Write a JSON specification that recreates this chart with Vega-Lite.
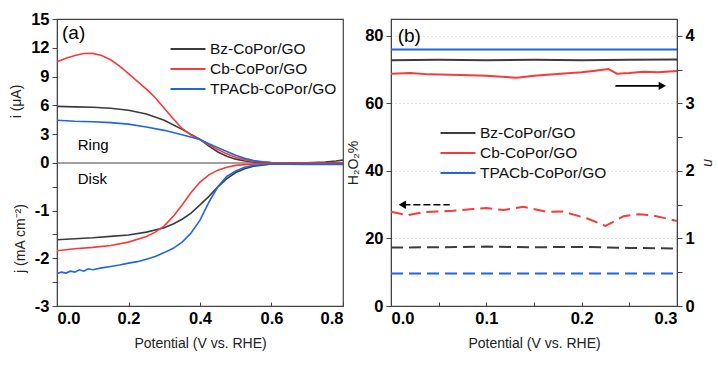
{
  "$schema": "https://vega.github.io/schema/vega-lite/v6.json",
  "background": "white",
  "padding": {"left": 9, "top": 10, "right": 5, "bottom": 5},
  "datasets": {
    "ring": [
      {"V": 0, "i": 5.9, "s": "Bz-CoPor/GO"}, {"V": 0.05, "i": 5.85, "s": "Bz-CoPor/GO"}, {"V": 0.1, "i": 5.8, "s": "Bz-CoPor/GO"}, {"V": 0.15, "i": 5.7, "s": "Bz-CoPor/GO"}, {"V": 0.2, "i": 5.5, "s": "Bz-CoPor/GO"}, {"V": 0.25, "i": 5.1, "s": "Bz-CoPor/GO"}, {"V": 0.3, "i": 4.45, "s": "Bz-CoPor/GO"}, {"V": 0.35, "i": 3.5, "s": "Bz-CoPor/GO"}, {"V": 0.4, "i": 2.45, "s": "Bz-CoPor/GO"}, {"V": 0.425, "i": 1.75, "s": "Bz-CoPor/GO"}, {"V": 0.45, "i": 1.15, "s": "Bz-CoPor/GO"}, {"V": 0.475, "i": 0.7, "s": "Bz-CoPor/GO"}, {"V": 0.5, "i": 0.4, "s": "Bz-CoPor/GO"}, {"V": 0.525, "i": 0.2, "s": "Bz-CoPor/GO"}, {"V": 0.55, "i": 0.1, "s": "Bz-CoPor/GO"}, {"V": 0.6, "i": 0.02, "s": "Bz-CoPor/GO"}, {"V": 0.65, "i": 0.0, "s": "Bz-CoPor/GO"}, {"V": 0.7, "i": 0.02, "s": "Bz-CoPor/GO"}, {"V": 0.75, "i": 0.1, "s": "Bz-CoPor/GO"}, {"V": 0.78, "i": 0.2, "s": "Bz-CoPor/GO"}, {"V": 0.8, "i": 0.3, "s": "Bz-CoPor/GO"},
      {"V": 0, "i": 10.55, "s": "Cb-CoPor/GO"}, {"V": 0.025, "i": 10.9, "s": "Cb-CoPor/GO"}, {"V": 0.05, "i": 11.2, "s": "Cb-CoPor/GO"}, {"V": 0.075, "i": 11.4, "s": "Cb-CoPor/GO"}, {"V": 0.1, "i": 11.42, "s": "Cb-CoPor/GO"}, {"V": 0.125, "i": 11.2, "s": "Cb-CoPor/GO"}, {"V": 0.15, "i": 10.75, "s": "Cb-CoPor/GO"}, {"V": 0.175, "i": 10.1, "s": "Cb-CoPor/GO"}, {"V": 0.2, "i": 9.3, "s": "Cb-CoPor/GO"}, {"V": 0.225, "i": 8.5, "s": "Cb-CoPor/GO"}, {"V": 0.25, "i": 7.7, "s": "Cb-CoPor/GO"}, {"V": 0.275, "i": 6.8, "s": "Cb-CoPor/GO"}, {"V": 0.3, "i": 5.7, "s": "Cb-CoPor/GO"}, {"V": 0.325, "i": 4.6, "s": "Cb-CoPor/GO"}, {"V": 0.35, "i": 3.6, "s": "Cb-CoPor/GO"}, {"V": 0.375, "i": 2.9, "s": "Cb-CoPor/GO"}, {"V": 0.4, "i": 2.45, "s": "Cb-CoPor/GO"}, {"V": 0.425, "i": 1.9, "s": "Cb-CoPor/GO"}, {"V": 0.45, "i": 1.4, "s": "Cb-CoPor/GO"}, {"V": 0.475, "i": 0.95, "s": "Cb-CoPor/GO"}, {"V": 0.5, "i": 0.6, "s": "Cb-CoPor/GO"}, {"V": 0.525, "i": 0.35, "s": "Cb-CoPor/GO"}, {"V": 0.55, "i": 0.15, "s": "Cb-CoPor/GO"}, {"V": 0.6, "i": 0.03, "s": "Cb-CoPor/GO"}, {"V": 0.65, "i": 0.0, "s": "Cb-CoPor/GO"}, {"V": 0.8, "i": 0.0, "s": "Cb-CoPor/GO"},
      {"V": 0, "i": 4.45, "s": "TPACb-CoPor/GO"}, {"V": 0.05, "i": 4.35, "s": "TPACb-CoPor/GO"}, {"V": 0.1, "i": 4.3, "s": "TPACb-CoPor/GO"}, {"V": 0.15, "i": 4.2, "s": "TPACb-CoPor/GO"}, {"V": 0.2, "i": 4.05, "s": "TPACb-CoPor/GO"}, {"V": 0.25, "i": 3.75, "s": "TPACb-CoPor/GO"}, {"V": 0.3, "i": 3.4, "s": "TPACb-CoPor/GO"}, {"V": 0.35, "i": 2.95, "s": "TPACb-CoPor/GO"}, {"V": 0.4, "i": 2.45, "s": "TPACb-CoPor/GO"}, {"V": 0.425, "i": 2.0, "s": "TPACb-CoPor/GO"}, {"V": 0.45, "i": 1.6, "s": "TPACb-CoPor/GO"}, {"V": 0.475, "i": 1.2, "s": "TPACb-CoPor/GO"}, {"V": 0.5, "i": 0.8, "s": "TPACb-CoPor/GO"}, {"V": 0.525, "i": 0.5, "s": "TPACb-CoPor/GO"}, {"V": 0.55, "i": 0.25, "s": "TPACb-CoPor/GO"}, {"V": 0.575, "i": 0.12, "s": "TPACb-CoPor/GO"}, {"V": 0.6, "i": 0.05, "s": "TPACb-CoPor/GO"}, {"V": 0.7, "i": -0.03, "s": "TPACb-CoPor/GO"}, {"V": 0.8, "i": -0.05, "s": "TPACb-CoPor/GO"}
    ],
    "disk": [
      {"V": 0, "j": -1.61, "s": "Bz-CoPor/GO"}, {"V": 0.05, "j": -1.59, "s": "Bz-CoPor/GO"}, {"V": 0.1, "j": -1.57, "s": "Bz-CoPor/GO"}, {"V": 0.15, "j": -1.54, "s": "Bz-CoPor/GO"}, {"V": 0.2, "j": -1.51, "s": "Bz-CoPor/GO"}, {"V": 0.25, "j": -1.45, "s": "Bz-CoPor/GO"}, {"V": 0.3, "j": -1.36, "s": "Bz-CoPor/GO"}, {"V": 0.325, "j": -1.28, "s": "Bz-CoPor/GO"}, {"V": 0.35, "j": -1.18, "s": "Bz-CoPor/GO"}, {"V": 0.375, "j": -1.05, "s": "Bz-CoPor/GO"}, {"V": 0.4, "j": -0.88, "s": "Bz-CoPor/GO"}, {"V": 0.425, "j": -0.7, "s": "Bz-CoPor/GO"}, {"V": 0.45, "j": -0.5, "s": "Bz-CoPor/GO"}, {"V": 0.475, "j": -0.33, "s": "Bz-CoPor/GO"}, {"V": 0.5, "j": -0.2, "s": "Bz-CoPor/GO"}, {"V": 0.525, "j": -0.12, "s": "Bz-CoPor/GO"}, {"V": 0.55, "j": -0.07, "s": "Bz-CoPor/GO"}, {"V": 0.6, "j": -0.02, "s": "Bz-CoPor/GO"}, {"V": 0.7, "j": 0, "s": "Bz-CoPor/GO"}, {"V": 0.8, "j": 0, "s": "Bz-CoPor/GO"},
      {"V": 0, "j": -1.84, "s": "Cb-CoPor/GO"}, {"V": 0.05, "j": -1.8, "s": "Cb-CoPor/GO"}, {"V": 0.1, "j": -1.77, "s": "Cb-CoPor/GO"}, {"V": 0.15, "j": -1.73, "s": "Cb-CoPor/GO"}, {"V": 0.2, "j": -1.66, "s": "Cb-CoPor/GO"}, {"V": 0.25, "j": -1.54, "s": "Cb-CoPor/GO"}, {"V": 0.275, "j": -1.45, "s": "Cb-CoPor/GO"}, {"V": 0.3, "j": -1.32, "s": "Cb-CoPor/GO"}, {"V": 0.325, "j": -1.12, "s": "Cb-CoPor/GO"}, {"V": 0.35, "j": -0.88, "s": "Cb-CoPor/GO"}, {"V": 0.375, "j": -0.62, "s": "Cb-CoPor/GO"}, {"V": 0.4, "j": -0.4, "s": "Cb-CoPor/GO"}, {"V": 0.425, "j": -0.25, "s": "Cb-CoPor/GO"}, {"V": 0.45, "j": -0.15, "s": "Cb-CoPor/GO"}, {"V": 0.475, "j": -0.09, "s": "Cb-CoPor/GO"}, {"V": 0.5, "j": -0.05, "s": "Cb-CoPor/GO"}, {"V": 0.55, "j": -0.02, "s": "Cb-CoPor/GO"}, {"V": 0.6, "j": 0, "s": "Cb-CoPor/GO"}, {"V": 0.8, "j": 0, "s": "Cb-CoPor/GO"},
      {"V": 0, "j": -2.32, "s": "TPACb-CoPor/GO"}, {"V": 0.0125, "j": -2.29, "s": "TPACb-CoPor/GO"}, {"V": 0.025, "j": -2.31, "s": "TPACb-CoPor/GO"}, {"V": 0.0375, "j": -2.27, "s": "TPACb-CoPor/GO"}, {"V": 0.05, "j": -2.29, "s": "TPACb-CoPor/GO"}, {"V": 0.0625, "j": -2.24, "s": "TPACb-CoPor/GO"}, {"V": 0.075, "j": -2.27, "s": "TPACb-CoPor/GO"}, {"V": 0.0875, "j": -2.22, "s": "TPACb-CoPor/GO"}, {"V": 0.1, "j": -2.24, "s": "TPACb-CoPor/GO"}, {"V": 0.125, "j": -2.2, "s": "TPACb-CoPor/GO"}, {"V": 0.15, "j": -2.17, "s": "TPACb-CoPor/GO"}, {"V": 0.175, "j": -2.14, "s": "TPACb-CoPor/GO"}, {"V": 0.2, "j": -2.1, "s": "TPACb-CoPor/GO"}, {"V": 0.225, "j": -2.07, "s": "TPACb-CoPor/GO"}, {"V": 0.25, "j": -2.02, "s": "TPACb-CoPor/GO"}, {"V": 0.275, "j": -1.96, "s": "TPACb-CoPor/GO"}, {"V": 0.3, "j": -1.88, "s": "TPACb-CoPor/GO"}, {"V": 0.325, "j": -1.79, "s": "TPACb-CoPor/GO"}, {"V": 0.35, "j": -1.66, "s": "TPACb-CoPor/GO"}, {"V": 0.375, "j": -1.47, "s": "TPACb-CoPor/GO"}, {"V": 0.4, "j": -1.2, "s": "TPACb-CoPor/GO"}, {"V": 0.425, "j": -0.82, "s": "TPACb-CoPor/GO"}, {"V": 0.45, "j": -0.5, "s": "TPACb-CoPor/GO"}, {"V": 0.475, "j": -0.28, "s": "TPACb-CoPor/GO"}, {"V": 0.5, "j": -0.17, "s": "TPACb-CoPor/GO"}, {"V": 0.525, "j": -0.09, "s": "TPACb-CoPor/GO"}, {"V": 0.55, "j": -0.05, "s": "TPACb-CoPor/GO"}, {"V": 0.6, "j": -0.02, "s": "TPACb-CoPor/GO"}, {"V": 0.7, "j": -0.03, "s": "TPACb-CoPor/GO"}, {"V": 0.8, "j": -0.03, "s": "TPACb-CoPor/GO"}
    ],
    "nval": [
      {"V": 0, "n": 3.64, "s": "Bz-CoPor/GO"}, {"V": 0.05, "n": 3.645, "s": "Bz-CoPor/GO"}, {"V": 0.1, "n": 3.64, "s": "Bz-CoPor/GO"}, {"V": 0.15, "n": 3.645, "s": "Bz-CoPor/GO"}, {"V": 0.2, "n": 3.64, "s": "Bz-CoPor/GO"}, {"V": 0.25, "n": 3.645, "s": "Bz-CoPor/GO"}, {"V": 0.3, "n": 3.65, "s": "Bz-CoPor/GO"},
      {"V": 0, "n": 3.44, "s": "Cb-CoPor/GO"}, {"V": 0.02, "n": 3.45, "s": "Cb-CoPor/GO"}, {"V": 0.04, "n": 3.43, "s": "Cb-CoPor/GO"}, {"V": 0.073, "n": 3.42, "s": "Cb-CoPor/GO"}, {"V": 0.1, "n": 3.41, "s": "Cb-CoPor/GO"}, {"V": 0.132, "n": 3.38, "s": "Cb-CoPor/GO"}, {"V": 0.15, "n": 3.41, "s": "Cb-CoPor/GO"}, {"V": 0.178, "n": 3.44, "s": "Cb-CoPor/GO"}, {"V": 0.2, "n": 3.46, "s": "Cb-CoPor/GO"}, {"V": 0.212, "n": 3.48, "s": "Cb-CoPor/GO"}, {"V": 0.228, "n": 3.51, "s": "Cb-CoPor/GO"}, {"V": 0.237, "n": 3.44, "s": "Cb-CoPor/GO"}, {"V": 0.25, "n": 3.45, "s": "Cb-CoPor/GO"}, {"V": 0.265, "n": 3.47, "s": "Cb-CoPor/GO"}, {"V": 0.28, "n": 3.46, "s": "Cb-CoPor/GO"}, {"V": 0.3, "n": 3.48, "s": "Cb-CoPor/GO"},
      {"V": 0, "n": 3.8, "s": "TPACb-CoPor/GO"}, {"V": 0.3, "n": 3.8, "s": "TPACb-CoPor/GO"}
    ],
    "h2o2": [
      {"V": 0, "h": 17.3, "s": "Bz-CoPor/GO"}, {"V": 0.05, "h": 17.4, "s": "Bz-CoPor/GO"}, {"V": 0.1, "h": 17.6, "s": "Bz-CoPor/GO"}, {"V": 0.15, "h": 17.4, "s": "Bz-CoPor/GO"}, {"V": 0.2, "h": 17.5, "s": "Bz-CoPor/GO"}, {"V": 0.25, "h": 17.2, "s": "Bz-CoPor/GO"}, {"V": 0.3, "h": 17.0, "s": "Bz-CoPor/GO"},
      {"V": 0, "h": 27.9, "s": "Cb-CoPor/GO"}, {"V": 0.017, "h": 26.9, "s": "Cb-CoPor/GO"}, {"V": 0.035, "h": 27.8, "s": "Cb-CoPor/GO"}, {"V": 0.048, "h": 28.0, "s": "Cb-CoPor/GO"}, {"V": 0.065, "h": 28.2, "s": "Cb-CoPor/GO"}, {"V": 0.086, "h": 28.7, "s": "Cb-CoPor/GO"}, {"V": 0.1, "h": 29.0, "s": "Cb-CoPor/GO"}, {"V": 0.118, "h": 28.4, "s": "Cb-CoPor/GO"}, {"V": 0.139, "h": 29.4, "s": "Cb-CoPor/GO"}, {"V": 0.163, "h": 27.9, "s": "Cb-CoPor/GO"}, {"V": 0.18, "h": 28.0, "s": "Cb-CoPor/GO"}, {"V": 0.206, "h": 25.9, "s": "Cb-CoPor/GO"}, {"V": 0.225, "h": 23.7, "s": "Cb-CoPor/GO"}, {"V": 0.244, "h": 26.6, "s": "Cb-CoPor/GO"}, {"V": 0.26, "h": 27.2, "s": "Cb-CoPor/GO"}, {"V": 0.275, "h": 26.8, "s": "Cb-CoPor/GO"}, {"V": 0.3, "h": 25.2, "s": "Cb-CoPor/GO"},
      {"V": 0, "h": 9.6, "s": "TPACb-CoPor/GO"}, {"V": 0.3, "h": 9.6, "s": "TPACb-CoPor/GO"}
    ]
  },
  "hconcat": [
    {
      "width": 286, "height": 287,
      "layer": [
        {
          "layer": [
            {
              "data": {"name": "ring"},
              "mark": {"type": "line", "strokeWidth": 1.6},
              "encoding": {
                "x": {"field": "V", "type": "quantitative", "scale": {"domain": [0, 0.8], "nice": false},
                      "axis": {"title": "Potential (V vs. RHE)", "values": [0, 0.1, 0.2, 0.3, 0.4, 0.5, 0.6, 0.7, 0.8], "tickSize": -4, "labelPadding": 8,
                               "labelExpr": "abs(datum.value*5 - round(datum.value*5)) < 0.001 ? format(datum.value, '.1f') : ''", "titlePadding": 10}},
                "y": {"field": "i", "type": "quantitative", "scale": {"domain": [-14.9, 15], "nice": false, "zero": false},
                      "axis": {"orient": "left", "title": "i (μA)", "values": [0, 1.5, 3, 4.5, 6, 7.5, 9, 10.5, 12, 13.5, 15],
                               "labelExpr": "datum.value % 3 == 0 ? datum.value : ''", "titlePadding": 7, "titleY": 82}},
                "color": {"field": "s", "type": "nominal", "title": null,
                          "scale": {"domain": ["Bz-CoPor/GO", "Cb-CoPor/GO", "TPACb-CoPor/GO"], "range": ["#3c3c3c", "#f83a3a", "#1f66e0"]},
                          "legend": {"orient": "none", "legendX": 120, "legendY": 19}}
              }
            },
            {
              "data": {"values": [{"z": 0}]},
              "mark": {"type": "rule", "color": "#444", "strokeWidth": 1.2},
              "encoding": {"y": {"field": "z", "type": "quantitative"}}
            },
            {
              "data": {"values": [{"V": 0.014, "i": 13.5, "t": "(a)"}]},
              "mark": {"type": "text", "align": "left", "baseline": "middle", "fontSize": 19, "font": "Liberation Sans", "color": "#000"},
              "encoding": {"x": {"field": "V", "type": "quantitative"}, "y": {"field": "i", "type": "quantitative"}, "text": {"field": "t"}}
            },
            {
              "data": {"values": [{"V": 0.058, "i": 1.9, "t": "Ring"}]},
              "mark": {"type": "text", "align": "left", "baseline": "middle", "fontSize": 15, "font": "Liberation Sans", "color": "#000"},
              "encoding": {"x": {"field": "V", "type": "quantitative"}, "y": {"field": "i", "type": "quantitative"}, "text": {"field": "t"}}
            }
          ]
        },
        {
          "layer": [
            {
              "data": {"name": "disk"},
              "mark": {"type": "line", "strokeWidth": 1.6},
              "encoding": {
                "x": {"field": "V", "type": "quantitative"},
                "y": {"field": "j", "type": "quantitative", "scale": {"domain": [-3, 3.02], "nice": false, "zero": false},
                      "axis": {"orient": "left", "title": "j (mA cm⁻²)", "values": [-3, -2.5, -2, -1.5, -1, -0.5],
                               "labelExpr": "datum.value % 1 == 0 ? '-' + abs(datum.value) : ''", "titlePadding": 7, "titleY": 219}},
                "color": {"field": "s", "type": "nominal", "title": null,
                          "scale": {"domain": ["Bz-CoPor/GO", "Cb-CoPor/GO", "TPACb-CoPor/GO"], "range": ["#3c3c3c", "#f83a3a", "#1f66e0"]},
                          "legend": {"orient": "none", "legendX": 120, "legendY": 19}}
              }
            },
            {
              "data": {"values": [{"V": 0.058, "j": -0.34, "t": "Disk"}]},
              "mark": {"type": "text", "align": "left", "baseline": "middle", "fontSize": 15, "font": "Liberation Sans", "color": "#000"},
              "encoding": {"x": {"field": "V", "type": "quantitative"}, "y": {"field": "j", "type": "quantitative"}, "text": {"field": "t"}}
            }
          ]
        }
      ],
      "resolve": {"scale": {"y": "independent"}}
    },
    {
      "width": 286, "height": 287,
      "layer": [
        {
          "layer": [
            {
              "data": {"name": "h2o2"},
              "mark": {"type": "line", "strokeWidth": 2, "strokeDash": [12, 6]},
              "encoding": {
                "x": {"field": "V", "type": "quantitative", "scale": {"domain": [0, 0.3], "nice": false},
                      "axis": {"title": "Potential (V vs. RHE)", "values": [0, 0.05, 0.1, 0.15, 0.2, 0.25, 0.3], "tickSize": -4, "labelPadding": 8,
                               "labelExpr": "abs(datum.value*10 - round(datum.value*10)) < 0.001 ? format(datum.value, '.1f') : ''", "titlePadding": 10}},
                "y": {"field": "h", "type": "quantitative", "scale": {"domain": [0, 85], "nice": false},
                      "axis": {"orient": "left", "title": "H₂O₂%", "values": [0, 10, 20, 30, 40, 50, 60, 70, 80], "grid": true, "gridDash": [1, 3], "gridColor": "#c8c8c8",
                               "labelExpr": "datum.value % 20 == 0 ? datum.value : ''", "titlePadding": 4}},
                "color": {"field": "s", "type": "nominal",
                          "scale": {"domain": ["Bz-CoPor/GO", "Cb-CoPor/GO", "TPACb-CoPor/GO"], "range": ["#3c3c3c", "#f83a3a", "#1f66e0"]},
                          "legend": {"orient": "none", "legendX": 56, "legendY": 103, "symbolDash": [1, 0]}}
              }
            },
            {
              "data": {"values": [{"V": 0.2354, "V2": 0.283, "h": 65.2}]},
              "mark": {"type": "rule", "color": "#000", "strokeWidth": 1.6},
              "encoding": {"x": {"field": "V", "type": "quantitative"}, "x2": {"field": "V2"}, "y": {"field": "h", "type": "quantitative"}}
            },
            {
              "data": {"values": [{"V": 0.2846, "h": 65.2}]},
              "mark": {"type": "point", "shape": "triangle-right", "filled": true, "color": "#000", "size": 70, "opacity": 1},
              "encoding": {"x": {"field": "V", "type": "quantitative"}, "y": {"field": "h", "type": "quantitative"}}
            },
            {
              "data": {"values": [{"V": 0.013, "V2": 0.0616, "h": 30}]},
              "mark": {"type": "rule", "color": "#000", "strokeWidth": 1.6, "strokeDash": [7, 3]},
              "encoding": {"x": {"field": "V", "type": "quantitative"}, "x2": {"field": "V2"}, "y": {"field": "h", "type": "quantitative"}}
            },
            {
              "data": {"values": [{"V": 0.0119, "h": 30}]},
              "mark": {"type": "point", "shape": "triangle-left", "filled": true, "color": "#000", "size": 70, "opacity": 1},
              "encoding": {"x": {"field": "V", "type": "quantitative"}, "y": {"field": "h", "type": "quantitative"}}
            },
            {
              "data": {"values": [{"V": 0.007, "h": 80, "t": "(b)"}]},
              "mark": {"type": "text", "align": "left", "baseline": "middle", "fontSize": 19, "font": "Liberation Sans", "color": "#000"},
              "encoding": {"x": {"field": "V", "type": "quantitative"}, "y": {"field": "h", "type": "quantitative"}, "text": {"field": "t"}}
            }
          ]
        },
        {
          "data": {"name": "nval"},
          "mark": {"type": "line", "strokeWidth": 2},
          "encoding": {
            "x": {"field": "V", "type": "quantitative"},
            "y": {"field": "n", "type": "quantitative", "scale": {"domain": [0, 4.25], "nice": false},
                  "axis": {"orient": "right", "title": "n", "titleFontStyle": "italic", "values": [0, 0.5, 1, 1.5, 2, 2.5, 3, 3.5, 4],
                           "labelExpr": "datum.value % 1 == 0 ? datum.value : ''", "titlePadding": 6}},
            "color": {"field": "s", "type": "nominal",
                      "scale": {"domain": ["Bz-CoPor/GO", "Cb-CoPor/GO", "TPACb-CoPor/GO"], "range": ["#3c3c3c", "#f83a3a", "#1f66e0"]},
                      "legend": {"orient": "none", "legendX": 56, "legendY": 103, "symbolDash": [1, 0]}}
          }
        }
      ],
      "resolve": {"scale": {"y": "independent"}}
    }
  ],
  "spacing": 48,
  "bounds": "flush",
  "resolve": {"scale": {"color": "independent"}, "legend": {"color": "independent"}},
  "config": {
    "font": "Liberation Sans",
    "view": {"stroke": "#444", "strokeWidth": 1.2},
    "axis": {
      "labelFont": "Liberation Sans", "labelFontWeight": "bold", "labelFontSize": 16.5, "labelColor": "#000",
      "titleFont": "Liberation Sans", "titleFontWeight": "normal", "titleFontSize": 14, "titleColor": "#222",
      "domainColor": "#444", "tickColor": "#444", "grid": false, "tickSize": 5, "labelPadding": 3
    },
    "legend": {
      "labelFont": "Liberation Sans", "labelFontSize": 15.5, "labelColor": "#111",
      "symbolType": "M-1.75,0H1.75", "symbolStrokeWidth": 2, "symbolSize": 400, "rowPadding": 0, "labelOffset": 11, "title": null, "padding": 0
    }
  }
}
